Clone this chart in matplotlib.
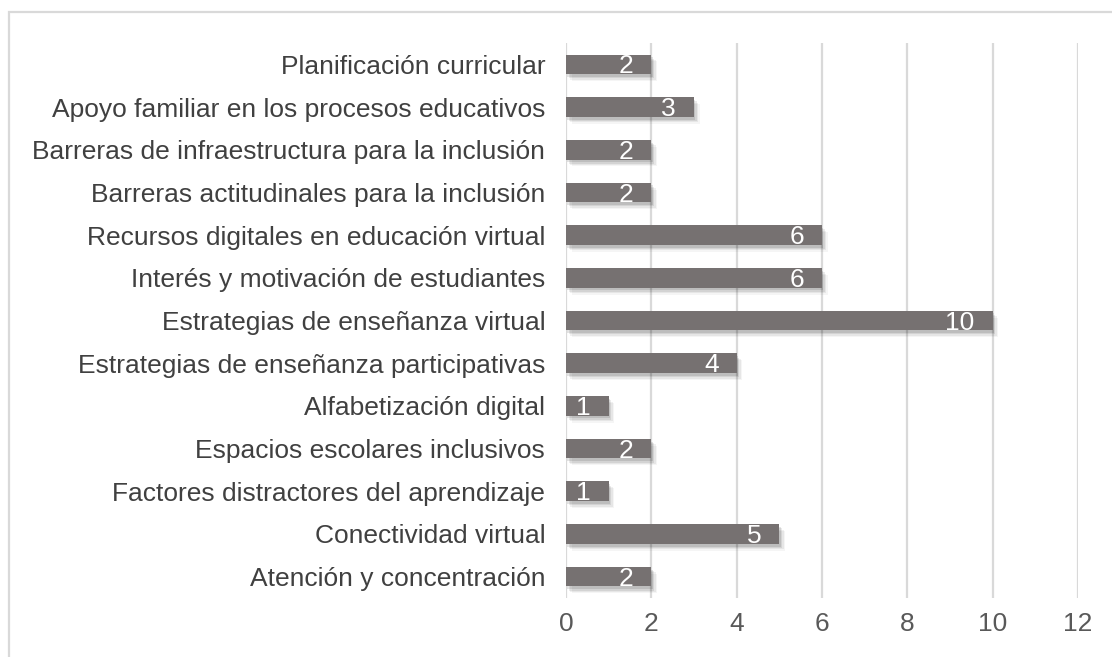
import matplotlib
matplotlib.use('Agg')
import matplotlib.pyplot as plt
import matplotlib.patheffects as pe
from matplotlib.patches import Rectangle

# datos (de arriba hacia abajo)
categorias = [
    'Planificación curricular',
    'Apoyo familiar en los procesos educativos',
    'Barreras de infraestructura para la inclusión',
    'Barreras actitudinales para la inclusión',
    'Recursos digitales en educación virtual',
    'Interés y motivación de estudiantes',
    'Estrategias de enseñanza virtual',
    'Estrategias de enseñanza participativas',
    'Alfabetización digital',
    'Espacios escolares inclusivos',
    'Factores distractores del aprendizaje',
    'Conectividad virtual',
    'Atención y concentración',
]
valores = [2, 3, 2, 2, 6, 6, 10, 4, 1, 2, 1, 5, 2]
ticks_x = [0, 2, 4, 6, 8, 10, 12]

plt.rcParams['font.family'] = ['Liberation Sans', 'DejaVu Sans']
fs = 19

fig = plt.figure(figsize=(11.12, 6.57), dpi=100)
ax = fig.add_axes([566 / 1112, 1 - 598 / 657, (1078 - 566) / 1112, (598 - 43) / 657])

# marco del gráfico
fig.patches.append(Rectangle((9 / 1112, -0.1), 1.2, 1 - 12 / 657 + 0.1,
                             transform=fig.transFigure, fill=False,
                             edgecolor='#d9d9d9', linewidth=1.6))

pos = list(range(len(categorias)))
# sombra difusa hecha con varias capas
sombra = [pe.SimplePatchShadow(offset=(4, -5), shadow_rgbFace='#000000', alpha=0.04),
          pe.SimplePatchShadow(offset=(3, -4), shadow_rgbFace='#000000', alpha=0.06),
          pe.SimplePatchShadow(offset=(2, -3), shadow_rgbFace='#000000', alpha=0.08),
          pe.SimplePatchShadow(offset=(1, -2), shadow_rgbFace='#000000', alpha=0.10),
          pe.Normal()]
barras = ax.barh(pos, valores, height=0.46, color='#767171', zorder=3)
for b in barras:
    b.set_path_effects(sombra)

for p, v in zip(pos, valores):
    ax.annotate(str(v), xy=(v, p), xytext=(-13, -1.5), textcoords='offset points',
                ha='right', va='center', color='white', fontsize=fs, zorder=4)

ax.set_yticks(pos)
ax.set_yticklabels(categorias, fontsize=fs, color='#404040')
ax.set_ylim(len(categorias) - 0.5, -0.5)
ax.set_xlim(0, 12)
ax.set_xticks(ticks_x)
ax.set_xticklabels([str(t) for t in ticks_x], fontsize=fs, color='#595959')
ax.tick_params(axis='both', length=0)
ax.tick_params(axis='y', pad=15)
ax.tick_params(axis='x', pad=10)
ax.grid(axis='x', color='#d9d9d9', linewidth=1.6, zorder=0)
for s in ax.spines.values():
    s.set_visible(False)

fig.savefig('out.png', dpi=100)
